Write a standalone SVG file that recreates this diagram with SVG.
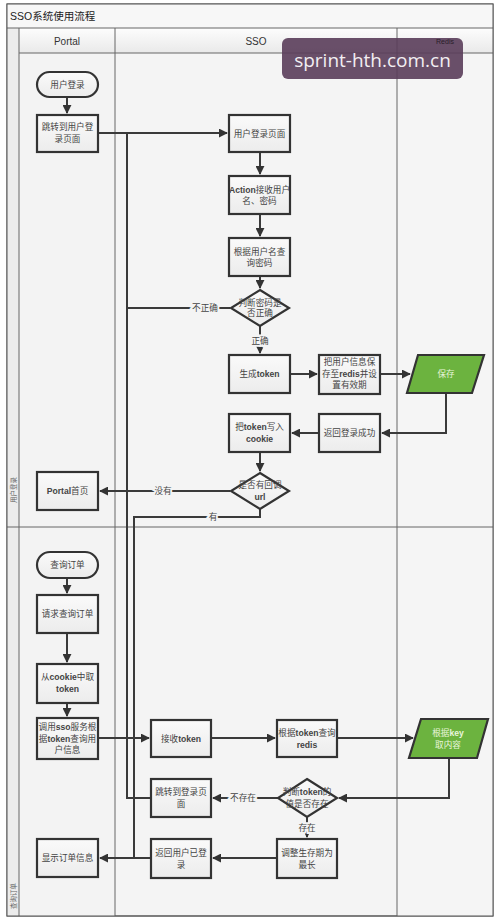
<svg xmlns="http://www.w3.org/2000/svg" width="500" height="921" viewBox="0 0 500 921">
<defs>
<marker id="ah" viewBox="0 0 10 10" refX="9" refY="5" markerWidth="4.5" markerHeight="4.5" orient="auto-start-reverse" markerUnits="strokeWidth">
<path d="M0,0 L10,5 L0,10 Z" fill="#333"/>
</marker>
<linearGradient id="hdr" x1="0" y1="0" x2="0" y2="1">
<stop offset="0" stop-color="#fdfdfd"/>
<stop offset="1" stop-color="#e9e9e9"/>
</linearGradient>
<linearGradient id="box" x1="0" y1="0" x2="0" y2="1">
<stop offset="0" stop-color="#fafafa"/>
<stop offset="1" stop-color="#ececec"/>
</linearGradient>
<style>
.frame{fill:none;stroke:#555;stroke-width:1}
.lane{stroke:#666;stroke-width:1}
.b{fill:url(#box);stroke:#333;stroke-width:2.2}
.g{fill:#6cb33f;stroke:#333;stroke-width:2.2}
.c{fill:none;stroke:#3a3a3a;stroke-width:2}
.arr{marker-end:url(#ah)}
.t{font-family:"Liberation Sans","Noto Sans CJK SC",sans-serif;font-size:8.6px;fill:#444;text-anchor:middle;dominant-baseline:central}
.tb{font-weight:bold}
.lbl{font-family:"Liberation Sans","Noto Sans CJK SC",sans-serif;font-size:8.6px;fill:#444;text-anchor:middle;dominant-baseline:central;stroke:#f4f4f4;stroke-width:4;paint-order:stroke}
.h{font-family:"Liberation Sans","Noto Sans CJK SC",sans-serif;font-size:10px;fill:#333;text-anchor:middle;dominant-baseline:central}
.side{font-family:"Noto Sans CJK SC",sans-serif;font-size:6.5px;fill:#666;text-anchor:middle;dominant-baseline:central}
</style>
</defs>

<g id="pool">
<rect x="0" y="0" width="500" height="921" fill="#ffffff"/>
<rect x="7" y="4" width="486" height="912" fill="#f4f4f4" stroke="#555" stroke-width="1"/>
<rect x="7" y="4" width="486" height="24" fill="#f7f7f7"/>
<text x="10" y="16" font-family="Liberation Sans,'Noto Sans CJK SC',sans-serif" font-size="10.5" fill="#222" dominant-baseline="central">SSO系统使用流程</text>
<rect x="19" y="28" width="474" height="25" fill="url(#hdr)"/>
<rect x="7" y="28" width="12" height="888" fill="#ececec"/>
<rect x="19" y="53" width="96" height="863" fill="#f3f3f3"/>
<rect x="397" y="53" width="96" height="863" fill="#f5f5f5"/>
<line class="lane" x1="7" y1="28" x2="493" y2="28"/>
<line class="lane" x1="19" y1="53" x2="493" y2="53"/>
<line class="lane" x1="7" y1="527" x2="493" y2="527"/>
<line class="lane" x1="19" y1="28" x2="19" y2="916"/>
<line class="lane" x1="115" y1="28" x2="115" y2="916"/>
<line class="lane" x1="397" y1="28" x2="397" y2="916"/>
<rect class="frame" x="7" y="4" width="486" height="912"/>
<text class="h" x="67" y="41">Portal</text>
<text class="h" x="256" y="41">SSO</text>
<text class="side" transform="translate(13,490) rotate(-90)">用户登录</text>
<text class="side" transform="translate(13,896) rotate(-90)">查询订单</text>
</g>

<g id="connectors">
<path class="c arr" d="M67,97 V113"/>
<path class="c arr" d="M97,133 H227"/>
<path class="c arr" d="M260,152 V174"/>
<path class="c arr" d="M260,214 V236"/>
<path class="c arr" d="M260,276 V288"/>
<path class="c arr" d="M260,326 V353"/>
<path class="c" d="M230,308 H127"/>
<path class="c" d="M151,798 H127 V133"/>
<path class="c arr" d="M290,374 H317"/>
<path class="c arr" d="M380,374 H410"/>
<path class="c arr" d="M446,393 V433 H382"/>
<path class="c arr" d="M319,433 H292"/>
<path class="c arr" d="M260,452 V471"/>
<path class="c arr" d="M230,491 H100"/>
<path class="c" d="M260,509 V517 H134 V858"/>
<path class="c arr" d="M67,578 V593"/>
<path class="c arr" d="M67,633 V662"/>
<path class="c arr" d="M67,703 V716"/>
<path class="c arr" d="M98,738 H149"/>
<path class="c arr" d="M211,738 H275"/>
<path class="c arr" d="M337,738 H413"/>
<path class="c arr" d="M449,758 V798 H339"/>
<path class="c arr" d="M278,798 H213"/>
<path class="c arr" d="M307,817 V837"/>
<path class="c arr" d="M277,858 H213"/>
<path class="c arr" d="M151,858 H100"/>
<text class="lbl" x="205" y="308">不正确</text>
<text class="lbl" x="260" y="341">正确</text>
<text class="lbl" x="163" y="491">没有</text>
<text class="lbl" x="213" y="517">有</text>
<text class="lbl" x="243" y="798">不存在</text>
<text class="lbl" x="307" y="828">存在</text>
</g>

<g id="n_login_start">
<rect class="b" x="37" y="72" width="61" height="25" rx="12.5"/>
<text class="t" x="67.5" y="84.5">用户登录</text>
</g>
<g id="n_goto_login">
<rect class="b" x="37" y="115" width="61" height="37"/>
<text class="t" x="67.5" y="127">跳转到用户登</text>
<text class="t" x="67.5" y="139">录页面</text>
</g>
<g id="n_login_page">
<rect class="b" x="229" y="115" width="61" height="37"/>
<text class="t" x="259.5" y="133.5">用户登录页面</text>
</g>
<g id="n_action">
<rect class="b" x="229" y="176" width="61" height="38"/>
<text class="t" x="259.5" y="190"><tspan class="tb">Action</tspan>接收用户</text>
<text class="t" x="259.5" y="201">名、密码</text>
</g>
<g id="n_query_pwd">
<rect class="b" x="229" y="238" width="61" height="38"/>
<text class="t" x="259.5" y="252">根据用户名查</text>
<text class="t" x="259.5" y="263">询密码</text>
</g>
<g id="n_check_pwd">
<polygon class="b" points="260,290 289,308 260,326 231,308"/>
<text class="t" x="260" y="303">判断密码是</text>
<text class="t" x="260" y="313">否正确</text>
</g>
<g id="n_gen_token">
<rect class="b" x="229" y="355" width="61" height="38"/>
<text class="t" x="259.5" y="374">生成<tspan class="tb">token</tspan></text>
</g>
<g id="n_save_user">
<rect class="b" x="319" y="355" width="61" height="39"/>
<text class="t" x="349.5" y="362">把用户信息保</text>
<text class="t" x="349.5" y="373.5">存至<tspan class="tb">redis</tspan>并设</text>
<text class="t" x="349.5" y="385">置有效期</text>
</g>
<g id="n_save">
<polygon class="g" points="418,355 484,355 472,393 407,393"/>
<text class="t" x="446" y="374" style="fill:#e8f5dc">保存</text>
</g>
<g id="n_login_ok">
<rect class="b" x="319" y="414" width="61" height="38"/>
<text class="t" x="349.5" y="433">返回登录成功</text>
</g>
<g id="n_write_cookie">
<rect class="b" x="229" y="414" width="61" height="38"/>
<text class="t" x="259.5" y="427">把<tspan class="tb">token</tspan>写入</text>
<text class="t" x="259.5" y="438.5" font-weight="bold">cookie</text>
</g>
<g id="n_has_callback">
<polygon class="b" points="260,473 289,491 260,509 231,491"/>
<text class="t" x="260" y="485">是否有回调</text>
<text class="t" x="260" y="496.5" font-weight="bold">url</text>
</g>
<g id="n_portal_home">
<rect class="b" x="37" y="472" width="61" height="38"/>
<text class="t" x="67.5" y="491"><tspan class="tb">Portal</tspan>首页</text>
</g>

<g id="n_query_start">
<rect class="b" x="37" y="552" width="61" height="26" rx="13"/>
<text class="t" x="67.5" y="565">查询订单</text>
</g>
<g id="n_req_order">
<rect class="b" x="37" y="595" width="61" height="38"/>
<text class="t" x="67.5" y="614">请求查询订单</text>
</g>
<g id="n_get_cookie">
<rect class="b" x="37" y="664" width="61" height="39"/>
<text class="t" x="67.5" y="677">从<tspan class="tb">cookie</tspan>中取</text>
<text class="t" x="67.5" y="688.5" font-weight="bold">token</text>
</g>
<g id="n_call_sso">
<rect class="b" x="37" y="718" width="61" height="41"/>
<text class="t" x="67.5" y="727">调用<tspan class="tb">sso</tspan>服务根</text>
<text class="t" x="67.5" y="738.5">据<tspan class="tb">token</tspan>查询用</text>
<text class="t" x="67.5" y="750">户信息</text>
</g>
<g id="n_recv_token">
<rect class="b" x="151" y="720" width="60" height="37"/>
<text class="t" x="181" y="738.5">接收<tspan class="tb">token</tspan></text>
</g>
<g id="n_query_redis">
<rect class="b" x="277" y="720" width="60" height="37"/>
<text class="t" x="307" y="733">根据<tspan class="tb">token</tspan>查询</text>
<text class="t" x="307" y="744.5" font-weight="bold">redis</text>
</g>
<g id="n_get_by_key">
<polygon class="g" points="421,719 488,719 477,758 409,758"/>
<text class="t" x="448" y="733" style="fill:#e8f5dc">根据<tspan class="tb">key</tspan></text>
<text class="t" x="448" y="744.5" style="fill:#e8f5dc">取内容</text>
</g>
<g id="n_check_token">
<polygon class="b" points="307,779 337,798 307,817 278,798"/>
<text class="t" x="307" y="792">判断<tspan class="tb">token</tspan>的</text>
<text class="t" x="307" y="803.5">值是否存在</text>
</g>
<g id="n_goto_login2">
<rect class="b" x="151" y="779" width="60" height="38"/>
<text class="t" x="181" y="792">跳转到登录页</text>
<text class="t" x="181" y="804">面</text>
</g>
<g id="n_extend">
<rect class="b" x="277" y="839" width="60" height="39"/>
<text class="t" x="307" y="853">调整生存期为</text>
<text class="t" x="307" y="864.5">最长</text>
</g>
<g id="n_logged_in">
<rect class="b" x="151" y="839" width="60" height="39"/>
<text class="t" x="181" y="853">返回用户已登</text>
<text class="t" x="181" y="864.5">录</text>
</g>
<g id="n_show_order">
<rect class="b" x="37" y="839" width="61" height="38"/>
<text class="t" x="67.5" y="858">显示订单信息</text>
</g>

<g id="watermark">
<rect x="282" y="38" width="181" height="41" rx="6" fill="#5a3d5a" opacity="0.9"/>
<text x="372.5" y="60" font-family="'Open Sans','DejaVu Sans',sans-serif" font-size="19" fill="#f2eef2" text-anchor="middle" dominant-baseline="central">sprint-hth.com.cn</text>
<text x="445" y="41" font-family="'Liberation Sans',sans-serif" font-size="7" fill="#2a1e2a" text-anchor="middle" dominant-baseline="central">Redis</text>
</g>
</svg>
